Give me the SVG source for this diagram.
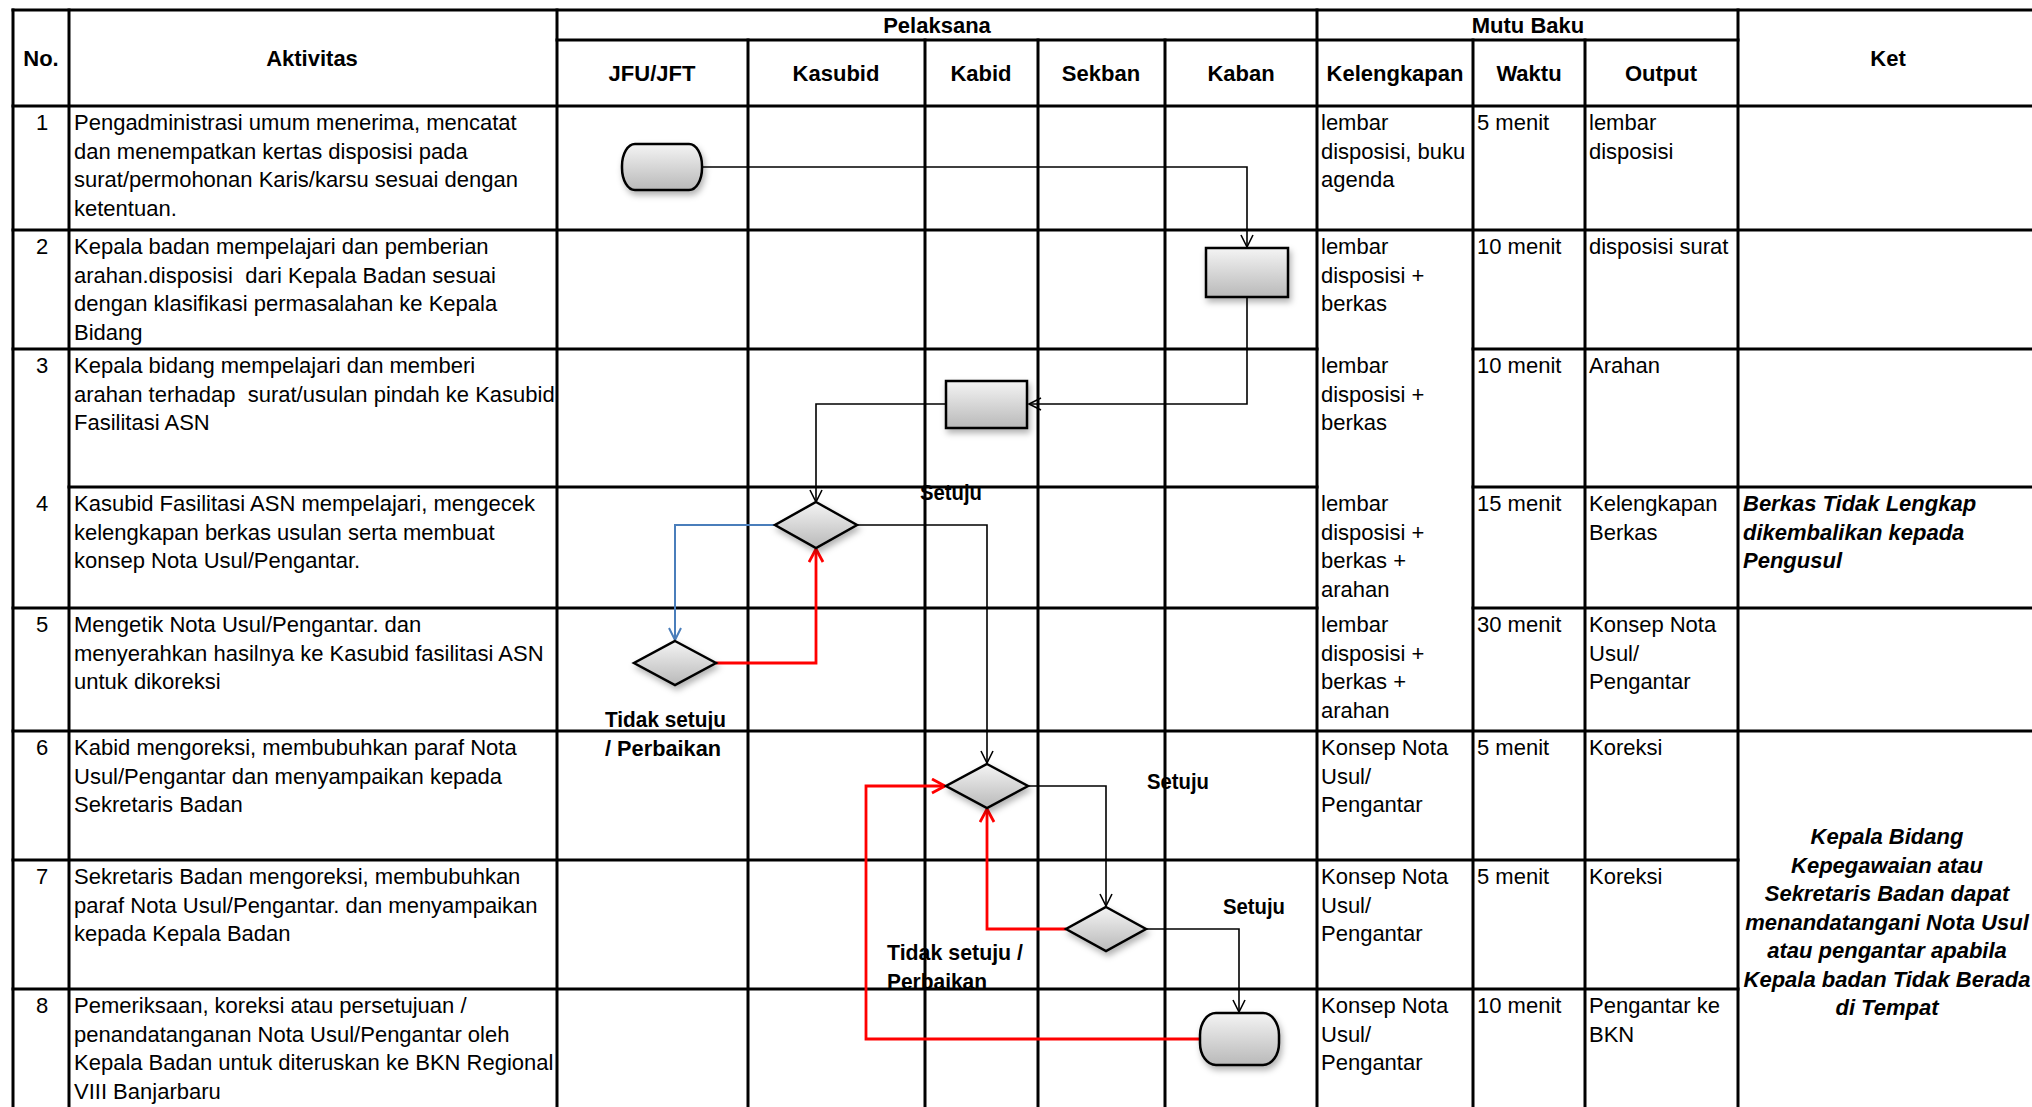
<svg xmlns="http://www.w3.org/2000/svg" width="2032" height="1107" viewBox="0 0 2032 1107">
<style>
.bg{fill:#ffffff}
.grid line{stroke:#000;stroke-width:3;stroke-linecap:square}
.t{font-family:"Liberation Sans",Arial,sans-serif;font-size:22px;fill:#000;white-space:pre}
.h{font-family:"Liberation Sans",Arial,sans-serif;font-size:22px;font-weight:bold;fill:#000;text-anchor:middle}
.n{text-anchor:middle}
.k{font-family:"Liberation Sans",Arial,sans-serif;font-size:22px;font-weight:bold;font-style:italic;fill:#000}
.lbl{font-family:"Liberation Sans",Arial,sans-serif;font-size:22px;font-weight:bold;fill:#000}
.shape{fill:url(#g);stroke:#000;stroke-width:2.5;filter:url(#sh)}
.c{fill:none;stroke:#000;stroke-width:1.6}
.cr{fill:none;stroke:#ff0000;stroke-width:2.8}
.cb{fill:none;stroke:#4a7ebb;stroke-width:2}
</style>
<defs>
<linearGradient id="g" x1="0" y1="0" x2="0" y2="1">
<stop offset="0" stop-color="#f4f4f4"/>
<stop offset="1" stop-color="#b9b9b9"/>
</linearGradient>
<filter id="sh" x="-30%" y="-30%" width="160%" height="170%">
<feDropShadow dx="2" dy="4" stdDeviation="3" flood-color="#000" flood-opacity="0.3"/>
</filter>
<marker id="ak" markerUnits="userSpaceOnUse" markerWidth="16" markerHeight="16" refX="13" refY="7" orient="auto">
<path d="M1,1 L13,7 L1,13" fill="none" stroke="#000" stroke-width="1.6"/>
</marker>
<marker id="ar" markerUnits="userSpaceOnUse" markerWidth="18" markerHeight="18" refX="14" refY="8" orient="auto">
<path d="M1,1 L14,8 L1,15" fill="none" stroke="#ff0000" stroke-width="2.8"/>
</marker>
<marker id="ab" markerUnits="userSpaceOnUse" markerWidth="16" markerHeight="16" refX="13" refY="7" orient="auto">
<path d="M1,1 L13,7 L1,13" fill="none" stroke="#4a7ebb" stroke-width="2"/>
</marker>
</defs>
<rect class="bg" x="0" y="0" width="2032" height="1107"/>

<g id="grid" class="grid">
<line x1="13" y1="10" x2="2040" y2="10"/>
<line x1="557" y1="40" x2="1738" y2="40"/>
<line x1="13" y1="106" x2="2040" y2="106"/>
<line x1="13" y1="230" x2="2040" y2="230"/>
<line x1="13" y1="349" x2="1317" y2="349"/>
<line x1="1473" y1="349" x2="2040" y2="349"/>
<line x1="69" y1="487" x2="1317" y2="487"/>
<line x1="1473" y1="487" x2="2040" y2="487"/>
<line x1="13" y1="608" x2="1317" y2="608"/>
<line x1="1473" y1="608" x2="2040" y2="608"/>
<line x1="13" y1="731" x2="2040" y2="731"/>
<line x1="13" y1="860" x2="1738" y2="860"/>
<line x1="13" y1="989" x2="1738" y2="989"/>
<line x1="13" y1="10" x2="13" y2="1110"/>
<line x1="69" y1="10" x2="69" y2="1110"/>
<line x1="557" y1="10" x2="557" y2="1110"/>
<line x1="748" y1="40" x2="748" y2="1110"/>
<line x1="925" y1="40" x2="925" y2="1110"/>
<line x1="1038" y1="40" x2="1038" y2="1110"/>
<line x1="1165" y1="40" x2="1165" y2="1110"/>
<line x1="1317" y1="10" x2="1317" y2="1110"/>
<line x1="1473" y1="40" x2="1473" y2="1110"/>
<line x1="1585" y1="40" x2="1585" y2="1110"/>
<line x1="1738" y1="10" x2="1738" y2="1110"/>
</g>

<g id="header">
<text class="h" x="41" y="66">No.</text>
<text class="h" x="312" y="66">Aktivitas</text>
<text class="h" x="937" y="33">Pelaksana</text>
<text class="h" x="1528" y="33">Mutu Baku</text>
<text class="h" x="652" y="81">JFU/JFT</text>
<text class="h" x="836" y="81">Kasubid</text>
<text class="h" x="981" y="81">Kabid</text>
<text class="h" x="1101" y="81">Sekban</text>
<text class="h" x="1241" y="81">Kaban</text>
<text class="h" x="1395" y="81">Kelengkapan</text>
<text class="h" x="1529" y="81">Waktu</text>
<text class="h" x="1661" y="81">Output</text>
<text class="h" x="1888" y="66">Ket</text>
</g>

<g id="row1">
<text class="t n" x="42" y="130">1</text>
<text class="t" x="74" y="130">Pengadministrasi umum menerima, mencatat</text>
<text class="t" x="74" y="158.5">dan menempatkan kertas disposisi pada</text>
<text class="t" x="74" y="187">surat/permohonan Karis/karsu sesuai dengan</text>
<text class="t" x="74" y="215.5">ketentuan.</text>
<text class="t" x="1321" y="130">lembar</text>
<text class="t" x="1321" y="158.5">disposisi, buku</text>
<text class="t" x="1321" y="187">agenda</text>
<text class="t" x="1477" y="130">5 menit</text>
<text class="t" x="1589" y="130">lembar</text>
<text class="t" x="1589" y="158.5">disposisi</text>
</g>

<g id="row2">
<text class="t n" x="42" y="254">2</text>
<text class="t" x="74" y="254">Kepala badan mempelajari dan pemberian</text>
<text class="t" x="74" y="282.5">arahan.disposisi  dari Kepala Badan sesuai</text>
<text class="t" x="74" y="311">dengan klasifikasi permasalahan ke Kepala</text>
<text class="t" x="74" y="339.5">Bidang</text>
<text class="t" x="1321" y="254">lembar</text>
<text class="t" x="1321" y="282.5">disposisi +</text>
<text class="t" x="1321" y="311">berkas</text>
<text class="t" x="1477" y="254">10 menit</text>
<text class="t" x="1589" y="254">disposisi surat</text>
</g>

<g id="row3">
<text class="t n" x="42" y="373">3</text>
<text class="t" x="74" y="373">Kepala bidang mempelajari dan memberi</text>
<text class="t" x="74" y="401.5">arahan terhadap  surat/usulan pindah ke Kasubid</text>
<text class="t" x="74" y="430">Fasilitasi ASN</text>
<text class="t" x="1321" y="373">lembar</text>
<text class="t" x="1321" y="401.5">disposisi +</text>
<text class="t" x="1321" y="430">berkas</text>
<text class="t" x="1477" y="373">10 menit</text>
<text class="t" x="1589" y="373">Arahan</text>
</g>

<g id="row4">
<text class="t n" x="42" y="511">4</text>
<text class="t" x="74" y="511">Kasubid Fasilitasi ASN mempelajari, mengecek</text>
<text class="t" x="74" y="539.5">kelengkapan berkas usulan serta membuat</text>
<text class="t" x="74" y="568">konsep Nota Usul/Pengantar.</text>
<text class="t" x="1321" y="511">lembar</text>
<text class="t" x="1321" y="539.5">disposisi +</text>
<text class="t" x="1321" y="568">berkas +</text>
<text class="t" x="1321" y="596.5">arahan</text>
<text class="t" x="1477" y="511">15 menit</text>
<text class="t" x="1589" y="511">Kelengkapan</text>
<text class="t" x="1589" y="539.5">Berkas</text>
<text class="k" x="1743" y="511">Berkas Tidak Lengkap</text>
<text class="k" x="1743" y="539.5">dikembalikan kepada</text>
<text class="k" x="1743" y="568">Pengusul</text>
</g>

<g id="row5">
<text class="t n" x="42" y="632">5</text>
<text class="t" x="74" y="632">Mengetik Nota Usul/Pengantar. dan</text>
<text class="t" x="74" y="660.5">menyerahkan hasilnya ke Kasubid fasilitasi ASN</text>
<text class="t" x="74" y="689">untuk dikoreksi</text>
<text class="t" x="1321" y="632">lembar</text>
<text class="t" x="1321" y="660.5">disposisi +</text>
<text class="t" x="1321" y="689">berkas +</text>
<text class="t" x="1321" y="717.5">arahan</text>
<text class="t" x="1477" y="632">30 menit</text>
<text class="t" x="1589" y="632">Konsep Nota</text>
<text class="t" x="1589" y="660.5">Usul/</text>
<text class="t" x="1589" y="689">Pengantar</text>
</g>

<g id="row6">
<text class="t n" x="42" y="755">6</text>
<text class="t" x="74" y="755">Kabid mengoreksi, membubuhkan paraf Nota</text>
<text class="t" x="74" y="783.5">Usul/Pengantar dan menyampaikan kepada</text>
<text class="t" x="74" y="812">Sekretaris Badan</text>
<text class="t" x="1321" y="755">Konsep Nota</text>
<text class="t" x="1321" y="783.5">Usul/</text>
<text class="t" x="1321" y="812">Pengantar</text>
<text class="t" x="1477" y="755">5 menit</text>
<text class="t" x="1589" y="755">Koreksi</text>
</g>

<g id="row7">
<text class="t n" x="42" y="884">7</text>
<text class="t" x="74" y="884">Sekretaris Badan mengoreksi, membubuhkan</text>
<text class="t" x="74" y="912.5">paraf Nota Usul/Pengantar. dan menyampaikan</text>
<text class="t" x="74" y="941">kepada Kepala Badan</text>
<text class="t" x="1321" y="884">Konsep Nota</text>
<text class="t" x="1321" y="912.5">Usul/</text>
<text class="t" x="1321" y="941">Pengantar</text>
<text class="t" x="1477" y="884">5 menit</text>
<text class="t" x="1589" y="884">Koreksi</text>
</g>

<g id="row8">
<text class="t n" x="42" y="1013">8</text>
<text class="t" x="74" y="1013">Pemeriksaan, koreksi atau persetujuan /</text>
<text class="t" x="74" y="1041.5">penandatanganan Nota Usul/Pengantar oleh</text>
<text class="t" x="74" y="1070">Kepala Badan untuk diteruskan ke BKN Regional</text>
<text class="t" x="74" y="1098.5">VIII Banjarbaru</text>
<text class="t" x="1321" y="1013">Konsep Nota</text>
<text class="t" x="1321" y="1041.5">Usul/</text>
<text class="t" x="1321" y="1070">Pengantar</text>
<text class="t" x="1477" y="1013">10 menit</text>
<text class="t" x="1589" y="1013">Pengantar ke</text>
<text class="t" x="1589" y="1041.5">BKN</text>
</g>

<g id="ket-6-8">
<text class="k" text-anchor="middle" x="1887" y="844">Kepala Bidang</text>
<text class="k" text-anchor="middle" x="1887" y="872.5">Kepegawaian atau</text>
<text class="k" text-anchor="middle" x="1887" y="901">Sekretaris Badan dapat</text>
<text class="k" text-anchor="middle" x="1887" y="929.5">menandatangani Nota Usul</text>
<text class="k" text-anchor="middle" x="1887" y="958">atau pengantar apabila</text>
<text class="k" text-anchor="middle" x="1887" y="986.5">Kepala badan Tidak Berada</text>
<text class="k" text-anchor="middle" x="1887" y="1015">di Tempat</text>
</g>

<g id="connectors">
<path class="c" d="M702,167 H1247 V247" marker-end="url(#ak)"/>
<path class="c" d="M1247,297 V404 H1029" marker-end="url(#ak)"/>
<path class="c" d="M946,404 H816 V502" marker-end="url(#ak)"/>
<path class="cb" d="M775,525 H675 V640" marker-end="url(#ab)"/>
<path class="cr" d="M716,663 H816 V549" marker-end="url(#ar)"/>
<path class="c" d="M857,525 H987 V763" marker-end="url(#ak)"/>
<path class="c" d="M1028,786 H1106 V906" marker-end="url(#ak)"/>
<path class="cr" d="M1066,929 H987 V809" marker-end="url(#ar)"/>
<path class="c" d="M1146,929 H1239 V1012" marker-end="url(#ak)"/>
<path class="cr" d="M1200,1039 H866 V786 H945" marker-end="url(#ar)"/>
</g>

<g id="start">
<rect class="shape" x="622" y="144" width="80" height="46" rx="13" ry="22"/>
</g>
<g id="kaban-disposisi">
<rect class="shape" x="1206" y="248" width="82" height="49"/>
</g>
<g id="kabid-arahan">
<rect class="shape" x="946" y="381" width="81" height="47"/>
</g>
<g id="kasubid-cek">
<polygon class="shape" points="816,502 857,525 816,548 775,525"/>
</g>
<g id="jfu-ketik">
<polygon class="shape" points="675,641 716,663 675,685 634,663"/>
</g>
<g id="kabid-koreksi">
<polygon class="shape" points="987,764 1028,786 987,808 946,786"/>
</g>
<g id="sekban-koreksi">
<polygon class="shape" points="1106,907 1146,929 1106,951 1066,929"/>
</g>
<g id="end">
<rect class="shape" x="1200" y="1013" width="79" height="52" rx="16" ry="22"/>
</g>

<g id="labels">
<text class="lbl" x="920" y="500" textLength="62" lengthAdjust="spacingAndGlyphs">Setuju</text>
<text class="lbl" x="605" y="727" textLength="121" lengthAdjust="spacingAndGlyphs">Tidak setuju</text>
<text class="lbl" x="605" y="756" textLength="116" lengthAdjust="spacingAndGlyphs">/ Perbaikan</text>
<text class="lbl" x="1147" y="789" textLength="62" lengthAdjust="spacingAndGlyphs">Setuju</text>
<text class="lbl" x="1223" y="914" textLength="62" lengthAdjust="spacingAndGlyphs">Setuju</text>
<text class="lbl" x="887" y="960" textLength="136" lengthAdjust="spacingAndGlyphs">Tidak setuju /</text>
<text class="lbl" x="887" y="989" textLength="100" lengthAdjust="spacingAndGlyphs">Perbaikan</text>
</g>
</svg>
